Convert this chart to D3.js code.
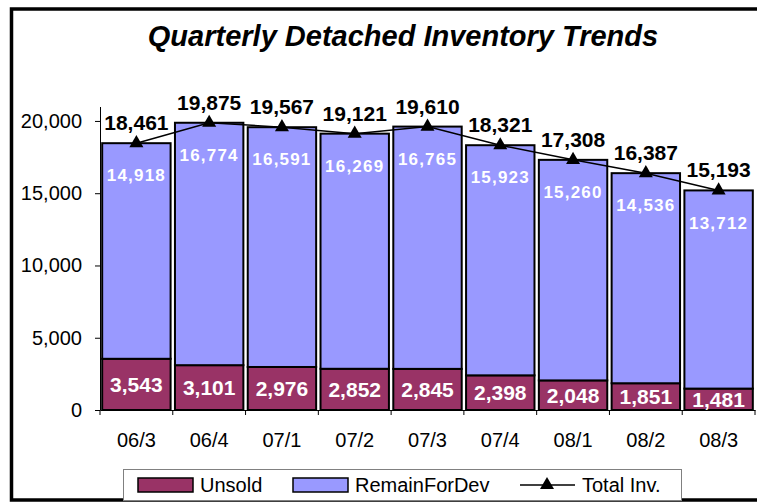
<!DOCTYPE html>
<html>
<head>
<meta charset="utf-8">
<script src="https://cdnjs.cloudflare.com/ajax/libs/d3/7.8.5/d3.min.js"></script>
<style>
  body { margin: 0; background: #fff; }
  text { font-family: "Liberation Sans", Arial, sans-serif; }
</style>
</head>
<body>
<div id="chart"></div>
<script>
// ------------------------------------------------------------------ //
// Data                                                               //
// ------------------------------------------------------------------ //
var quarters = ["06/3", "06/4", "07/1", "07/2", "07/3", "07/4", "08/1", "08/2", "08/3"];
var unsold = [3543, 3101, 2976, 2852, 2845, 2398, 2048, 1851, 1481];
var remainForDev = [14918, 16774, 16591, 16269, 16765, 15923, 15260, 14536, 13712];
var totalInv = [18461, 19875, 19567, 19121, 19610, 18321, 17308, 16387, 15193];
var yTicks = [0, 5000, 10000, 15000, 20000];
var seriesNames = ["Unsold", "RemainForDev", "Total Inv."];

var colUnsold = "#993366",
    colRemain = "#9999ff";

var width = 757, height = 502;
var fmt = d3.format(",");

var data = quarters.map(function(q, i) {
  return { quarter: q, Unsold: unsold[i], RemainForDev: remainForDev[i], total: totalInv[i] };
});

var svg = d3.select("#chart")
  .append("svg")
    .attr("width", width)
    .attr("height", height);

// outer frame
svg.append("rect")
  .attr("x", 11.5)
  .attr("y", 9)
  .attr("width", 800)
  .attr("height", 491)
  .attr("fill", "#fff")
  .attr("stroke", "#000")
  .attr("stroke-width", 3.5);

// title
svg.append("text")
  .attr("x", 403)
  .attr("y", 46)
  .attr("text-anchor", "middle")
  .style("font-size", "29px")
  .style("font-weight", "bold")
  .style("font-style", "italic")
  .text("Quarterly Detached Inventory Trends");

// ----- //
// Scales //
// ----- //
var x = d3.scaleBand()
  .domain(quarters)
  .range([100, 755])
  .paddingInner(0.06)
  .paddingOuter(0.03);

var y = d3.scaleLinear()
  .domain([0, 21000])
  .range([410, 106.5]);

// ---- //
// Axes //
// ---- //
var yAxis = svg.append("g")
  .attr("transform", "translate(100,0)")
  .call(d3.axisLeft(y).tickValues(yTicks).tickFormat(fmt).tickSize(5).tickSizeOuter(0).tickPadding(13));
yAxis.selectAll("text").style("font-size", "20px").attr("fill", "#000");
yAxis.selectAll("line, path").attr("stroke", "#000");

var xAxis = svg.append("g")
  .attr("transform", "translate(0,410)")
  .call(d3.axisBottom(x).tickSize(0).tickSizeOuter(0).tickPadding(23));
xAxis.selectAll("text").style("font-size", "20px").attr("fill", "#000");
xAxis.select("path").attr("stroke", "#000");

// ticks between categories
var step = x.step();
var edges = quarters.map(function(q) { return x(q) - x.paddingInner() * step / 2; });
edges.push(755);
svg.selectAll(".xedge")
  .data(edges)
  .enter()
  .append("line")
    .attr("x1", function(d) { return d; })
    .attr("x2", function(d) { return d; })
    .attr("y1", 410)
    .attr("y2", 415)
    .attr("stroke", "#000");

// ----- //
// Bars  //
// ----- //
var stacked = d3.stack().keys(["Unsold", "RemainForDev"])(data);
var color = d3.scaleOrdinal().domain(["Unsold", "RemainForDev"]).range([colUnsold, colRemain]);

svg.selectAll(".layer")
  .data(stacked)
  .enter()
  .append("g")
    .attr("fill", function(d) { return color(d.key); })
  .selectAll("rect")
  .data(function(d) { return d; })
  .enter()
  .append("rect")
    .attr("x", function(d) { return x(d.data.quarter); })
    .attr("y", function(d) { return y(d[1]); })
    .attr("width", x.bandwidth())
    .attr("height", function(d) { return y(d[0]) - y(d[1]); })
    .attr("stroke", "#000")
    .attr("stroke-width", 2);

// unsold labels (centred in segment)
svg.selectAll(".lblUnsold")
  .data(data)
  .enter()
  .append("text")
    .attr("x", function(d) { return x(d.quarter) + x.bandwidth() / 2; })
    .attr("y", function(d) { return (y(0) + y(d.Unsold)) / 2; })
    .attr("dy", "0.36em")
    .attr("text-anchor", "middle")
    .attr("fill", "#fff")
    .style("font-size", "21px")
    .style("font-weight", "bold")
    .text(function(d) { return fmt(d.Unsold); });

// remain labels (near top of the blue segment)
svg.selectAll(".lblRemain")
  .data(data)
  .enter()
  .append("text")
    .attr("x", function(d) { return x(d.quarter) + x.bandwidth() / 2; })
    .attr("y", function(d) { return y(d.total) + 32; })
    .attr("dy", "0.36em")
    .attr("text-anchor", "middle")
    .attr("fill", "#fff")
    .style("font-size", "17px")
    .style("font-weight", "bold")
    .style("letter-spacing", "1.2px")
    .text(function(d) { return fmt(d.RemainForDev); });

// ---------- //
// Total line //
// ---------- //
var line = d3.line()
  .x(function(d) { return x(d.quarter) + x.bandwidth() / 2; })
  .y(function(d) { return y(d.total); });

svg.append("path")
  .datum(data)
  .attr("d", line)
  .attr("fill", "none")
  .attr("stroke", "#000")
  .attr("stroke-width", 1.5);

var tri = d3.symbol().type(d3.symbolTriangle).size(85);
svg.selectAll(".marker")
  .data(data)
  .enter()
  .append("path")
    .attr("d", tri)
    .attr("transform", function(d) {
      return "translate(" + (x(d.quarter) + x.bandwidth() / 2) + "," + y(d.total) + ")";
    })
    .attr("fill", "#000");

svg.selectAll(".lblTotal")
  .data(data)
  .enter()
  .append("text")
    .attr("x", function(d) { return x(d.quarter) + x.bandwidth() / 2; })
    .attr("y", function(d) { return y(d.total) - 13; })
    .attr("text-anchor", "middle")
    .attr("fill", "#000")
    .style("font-size", "21px")
    .style("font-weight", "bold")
    .text(function(d) { return fmt(d.total); });

// ------ //
// Legend //
// ------ //
var legend = svg.append("g");
legend.append("rect")
  .attr("x", 123.5)
  .attr("y", 469.5)
  .attr("width", 558)
  .attr("height", 31)
  .attr("fill", "#fff")
  .attr("stroke", "#808080");

var legX = [138, 293, 520];
legend.selectAll(".swatch")
  .data(seriesNames.slice(0, 2))
  .enter()
  .append("rect")
    .attr("x", function(d, i) { return legX[i]; })
    .attr("y", 478)
    .attr("width", 55)
    .attr("height", 14)
    .attr("fill", function(d) { return color(d); })
    .attr("stroke", "#000")
    .attr("stroke-width", 1.5);

legend.append("line")
  .attr("x1", legX[2])
  .attr("x2", legX[2] + 55)
  .attr("y1", 485)
  .attr("y2", 485)
  .attr("stroke", "#000")
  .attr("stroke-width", 1.5);
legend.append("path")
  .attr("d", tri)
  .attr("transform", "translate(" + (legX[2] + 27) + ",485)");

legend.selectAll(".legText")
  .data(seriesNames)
  .enter()
  .append("text")
    .attr("x", function(d, i) { return legX[i] + 62; })
    .attr("y", 485)
    .attr("dy", "0.36em")
    .style("font-size", "20px")
    .text(function(d) { return d; });
</script>
</body>
</html>
